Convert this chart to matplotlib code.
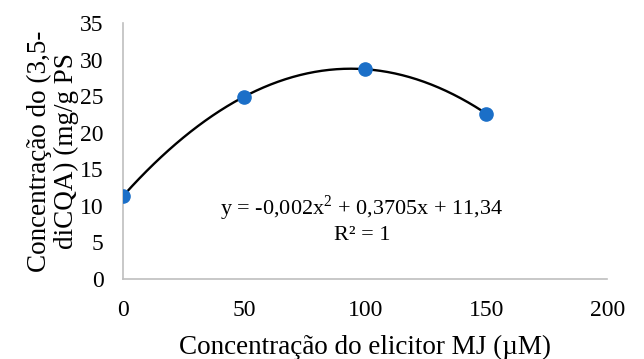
import numpy as np
import matplotlib.pyplot as plt

plt.rcParams['font.family'] = ['Liberation Serif', 'DejaVu Serif']
plt.rcParams['mathtext.fontset'] = 'custom'
plt.rcParams['mathtext.rm'] = 'Liberation Serif'

# data
conc_mj = [0, 50, 100, 150]
dicqa = [11.34, 24.9, 28.7, 22.6]
x_ticks = [0, 50, 100, 150, 200]
y_ticks = [0, 5, 10, 15, 20, 25, 30, 35]

fig = plt.figure(figsize=(6.44, 3.59), dpi=100)
ax = fig.add_axes([0.191, 0.223, 0.752, 0.713])

# polynomial trendline (order 2)
coef = np.polyfit(conc_mj, dicqa, 2)
xs = np.linspace(min(conc_mj), max(conc_mj), 200)
ax.plot(xs, np.polyval(coef, xs), color='black', lw=1.7, zorder=2)
ax.plot(conc_mj, dicqa, 'o', color='#1B6FC8', markersize=9.5, zorder=3)

ax.set_xlim(0, 200)
ax.set_ylim(0, 35)
ax.set_xticks(x_ticks)
ax.set_yticks(y_ticks)
ax.tick_params(length=0, labelsize=17)
ax.tick_params(axis='x', pad=15)
ax.tick_params(axis='y', pad=14)
for s in ['top', 'right']:
    ax.spines[s].set_visible(False)
for s in ['left', 'bottom']:
    ax.spines[s].set_color('#BFBFBF')
    ax.spines[s].set_linewidth(1.2)

ax.text(98.6, 9.7, 'y = -0,002x$^\\mathregular{2}$ + 0,3705x + 11,34', ha='center', va='center', fontsize=16)
ax.text(98.6, 6.0, 'R² = 1', ha='center', va='center', fontsize=16)

ax.set_xlabel('Concentração do elicitor MJ (µM)', fontsize=19.5, labelpad=10)
ax.set_ylabel('Concentração do (3,5-\ndiCQA) (mg/g PS', fontsize=19.5, labelpad=1, linespacing=1.05)

fig.savefig('out.png', dpi=100)
